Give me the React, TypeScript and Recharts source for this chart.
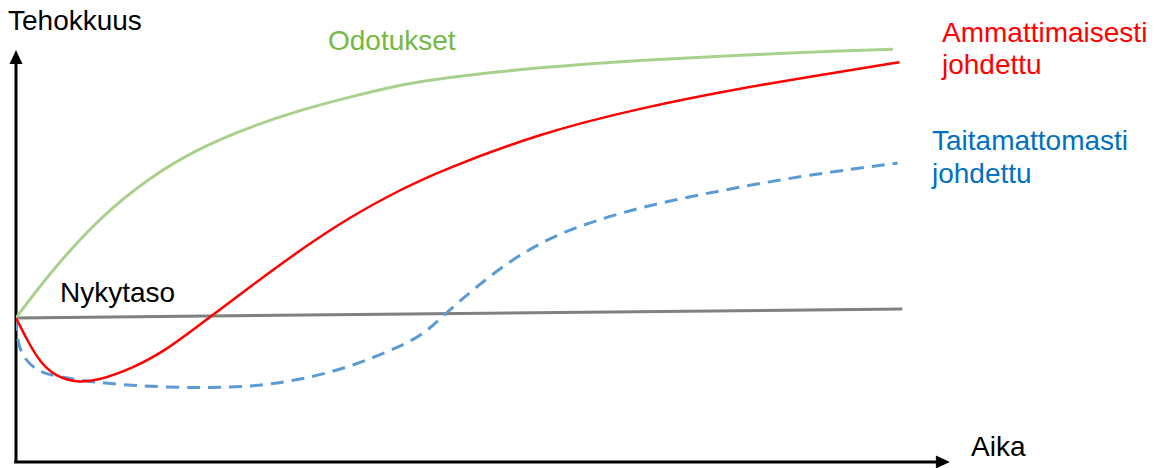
import { LineChart, Line, XAxis, YAxis, ReferenceLine } from "recharts";

// time (0-100) vs efficiency (0-100)
const expectations = [
  { t: 0, v: 34.3 },
  { t: 3.6, v: 45.0 },
  { t: 9.0, v: 58.3 },
  { t: 14.4, v: 67.9 },
  { t: 19.7, v: 74.8 },
  { t: 25.1, v: 79.8 },
  { t: 30.5, v: 83.8 },
  { t: 35.8, v: 86.9 },
  { t: 41.2, v: 89.8 },
  { t: 45.5, v: 91.4 },
  { t: 56.2, v: 94.0 },
  { t: 67.0, v: 95.7 },
  { t: 77.7, v: 96.9 },
  { t: 88.4, v: 97.9 },
  { t: 94.1, v: 98.3 },
];

const professional = [
  { t: 0, v: 34.3 },
  { t: 1.2, v: 29.0 },
  { t: 2.6, v: 23.6 },
  { t: 4.4, v: 20.2 },
  { t: 6.5, v: 19.0 },
  { t: 8.7, v: 19.3 },
  { t: 12.6, v: 22.4 },
  { t: 16.2, v: 26.7 },
  { t: 20.8, v: 34.5 },
  { t: 25.1, v: 41.7 },
  { t: 30.5, v: 50.5 },
  { t: 35.8, v: 58.3 },
  { t: 41.2, v: 64.8 },
  { t: 45.5, v: 69.3 },
  { t: 56.2, v: 78.3 },
  { t: 67.0, v: 84.3 },
  { t: 77.7, v: 89.0 },
  { t: 88.4, v: 92.9 },
  { t: 94.8, v: 95.2 },
];

const unskilled = [
  { t: 0, v: 34.3 },
  { t: 0.1, v: 29.5 },
  { t: 0.6, v: 25.5 },
  { t: 2.0, v: 21.9 },
  { t: 4.0, v: 20.5 },
  { t: 7.2, v: 19.3 },
  { t: 12.6, v: 18.1 },
  { t: 19.7, v: 17.6 },
  { t: 25.1, v: 17.9 },
  { t: 30.5, v: 19.5 },
  { t: 35.8, v: 22.6 },
  { t: 41.2, v: 27.4 },
  { t: 43.9, v: 30.7 },
  { t: 46.0, v: 35.2 },
  { t: 49.0, v: 41.0 },
  { t: 52.7, v: 47.4 },
  { t: 56.2, v: 52.1 },
  { t: 59.8, v: 55.7 },
  { t: 65.1, v: 59.5 },
  { t: 70.5, v: 62.4 },
  { t: 77.7, v: 65.5 },
  { t: 84.9, v: 68.3 },
  { t: 94.6, v: 71.2 },
];

const currentLevel = [
  { t: 0, v: 34.3 },
  { t: 95.1, v: 36.4 },
];

const font = "'Liberation Sans', Arial, sans-serif";

function ArrowAxis(props: any) {
  const { x1, y1, x2, y2 } = props;
  const vertical = Math.abs(x2 - x1) < Math.abs(y2 - y1);
  const head = vertical
    ? `${x2 - 6.5},${y2 + 14} ${x2 + 6.5},${y2 + 14} ${x2},${y2}`
    : `${x2 - 14},${y2 - 6.5} ${x2 - 14},${y2 + 6.5} ${x2},${y2}`;
  return (
    <g>
      <line
        x1={x1}
        y1={y1}
        x2={vertical ? x2 : x2 - 10}
        y2={vertical ? y2 + 10 : y2}
        stroke="#000"
        strokeWidth={3}
      />
      <polygon points={head} fill="#000" />
    </g>
  );
}

export default function App() {
  return (
    <div style={{ position: "absolute", left: 0, top: 0, width: 1156, height: 468, background: "#fff" }}>
      <LineChart width={1156} height={468} margin={{ top: 42, right: 208, bottom: 6, left: 16 }}>
        <XAxis type="number" dataKey="t" domain={[0, 100]} hide allowDataOverflow />
        <YAxis type="number" dataKey="v" domain={[0, 100]} hide allowDataOverflow />
        <ReferenceLine
          segment={[{ x: 0, y: 0 }, { x: 0, y: 98.1 }]}
          ifOverflow="visible"
          shape={ArrowAxis}
        />
        <ReferenceLine
          segment={[{ x: -0.2, y: 0 }, { x: 100.2, y: 0 }]}
          ifOverflow="visible"
          shape={ArrowAxis}
        />
        <Line data={currentLevel} dataKey="v" type="linear" stroke="#808080" strokeWidth={3} dot={false} isAnimationActive={false} />
        <Line data={expectations} dataKey="v" type="basis" stroke="#A9D18E" strokeWidth={3} dot={false} isAnimationActive={false} />
        <Line
          data={unskilled}
          dataKey="v"
          type="basis"
          stroke="#5B9BD5"
          strokeWidth={3}
          strokeDasharray="13 8"
          dot={false}
          isAnimationActive={false}
        />
        <Line data={professional} dataKey="v" type="basis" stroke="#FF0000" strokeWidth={2.5} dot={false} isAnimationActive={false} />
        <g fontFamily={font} fontSize={28}>
          <text x={8} y={30} fill="#000">Tehokkuus</text>
          <text x={328} y={50} fill="#77B843">Odotukset</text>
          <text x={942} y={42} fill="#FF0000">Ammattimaisesti</text>
          <text x={942} y={74} fill="#FF0000">johdettu</text>
          <text x={932} y={150} fill="#0070C0">Taitamattomasti</text>
          <text x={932} y={183} fill="#0070C0">johdettu</text>
          <text x={60} y={302} fill="#000">Nykytaso</text>
          <text x={971} y={456} fill="#000">Aika</text>
        </g>
      </LineChart>
    </div>
  );
}
